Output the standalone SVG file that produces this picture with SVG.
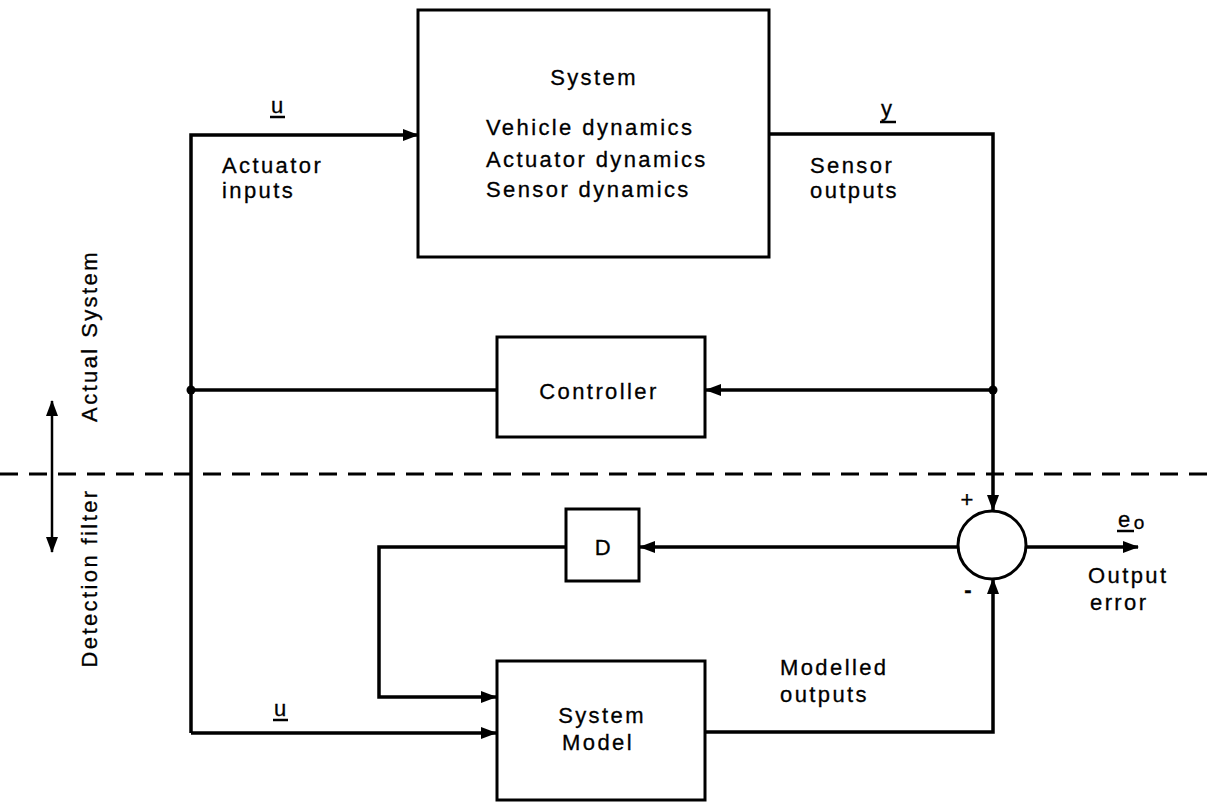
<svg xmlns="http://www.w3.org/2000/svg" width="1214" height="802" viewBox="0 0 1214 802">
<style>
.box{fill:none;stroke:#000;stroke-width:3}
.ln{fill:none;stroke:#000;stroke-width:3.5}
.t{font-family:"Liberation Sans",Arial,sans-serif;font-size:22px;fill:#000;letter-spacing:2.4px;stroke:#000;stroke-width:0.3}
.c{text-anchor:middle}
.ul{stroke:#000;stroke-width:2.5}
</style>
<defs>
<marker id="ah" viewBox="0 0 16 12" refX="15" refY="6" markerWidth="16" markerHeight="12" markerUnits="userSpaceOnUse" orient="auto-start-reverse">
<path d="M0,0 L16,6 L0,12 Z" fill="#000"/>
</marker>
</defs>
<rect width="1214" height="802" fill="#fff"/>
<g id="connectors">
<path class="ln" d="M191,733 L191,135 L418,135" marker-end="url(#ah)"/>
<path class="ln" d="M769,134 L993,134 L993,510" marker-end="url(#ah)"/>
<path class="ln" d="M993,390 L706,390" marker-end="url(#ah)"/>
<path class="ln" d="M497,390 L191,390"/>
<circle cx="191" cy="390" r="4.5" fill="#000"/>
<circle cx="993" cy="390" r="4.5" fill="#000"/>
<path class="ln" d="M958,547 L640,547" marker-end="url(#ah)"/>
<path class="ln" d="M566,547 L379,547 L379,697 L496,697" marker-end="url(#ah)"/>
<path class="ln" d="M191,733 L496,733" marker-end="url(#ah)"/>
<path class="ln" d="M706,732 L993,732 L993,579" marker-end="url(#ah)"/>
<path class="ln" d="M1027,547 L1138,547" marker-end="url(#ah)"/>
<line x1="0" y1="474" x2="1214" y2="474" stroke="#000" stroke-width="3" stroke-dasharray="18,11"/>
<path d="M52,401 L52,552" stroke="#000" stroke-width="2.5" marker-start="url(#ah)" marker-end="url(#ah)"/>
</g>
<g id="system">
<rect class="box" x="418" y="10" width="351" height="247"/>
<text class="t c" x="594" y="85">System</text>
<text class="t" x="486" y="135">Vehicle dynamics</text>
<text class="t" x="486" y="167">Actuator dynamics</text>
<text class="t" x="486" y="197">Sensor dynamics</text>
</g>
<g id="controller">
<rect class="box" x="497" y="337" width="208" height="100"/>
<text class="t c" x="599" y="399">Controller</text>
</g>
<g id="sum">
<circle cx="992" cy="545" r="34" fill="#fff" stroke="#000" stroke-width="3"/>
<text class="t c" x="968" y="507">+</text>
<text class="t c" x="969" y="597" font-size="26" font-weight="bold">-</text>
</g>
<g id="d">
<rect class="box" x="566" y="509" width="73" height="72"/>
<text class="t c" x="604" y="555">D</text>
</g>
<g id="model">
<rect class="box" x="497" y="661" width="208" height="139"/>
<text class="t c" x="602" y="723">System</text>
<text class="t c" x="598" y="750">Model</text>
</g>
<g id="labels">
<text class="t" x="271" y="113">u</text>
<line class="ul" x1="270" y1="117" x2="285" y2="117"/>
<text class="t" x="222" y="173">Actuator</text>
<text class="t" x="222" y="198">inputs</text>
<text class="t" x="881" y="116">y</text>
<line class="ul" x1="880" y1="122" x2="896" y2="122"/>
<text class="t" x="810" y="173">Sensor</text>
<text class="t" x="810" y="198">outputs</text>
<text class="t" x="274" y="716">u</text>
<line class="ul" x1="273" y1="720" x2="288" y2="720"/>
<text class="t" x="780" y="675">Modelled</text>
<text class="t" x="780" y="702">outputs</text>
<text class="t" x="1118" y="527">e<tspan dx="1" dy="2" font-size="19">o</tspan></text>
<line class="ul" x1="1117" y1="531" x2="1134" y2="531"/>
<text class="t" x="1088" y="583">Output</text>
<text class="t" x="1090" y="610">error</text>
<text class="t c" transform="translate(97,336) rotate(-90)">Actual System</text>
<text class="t c" transform="translate(97,578) rotate(-90)">Detection filter</text>
</g>
</svg>
